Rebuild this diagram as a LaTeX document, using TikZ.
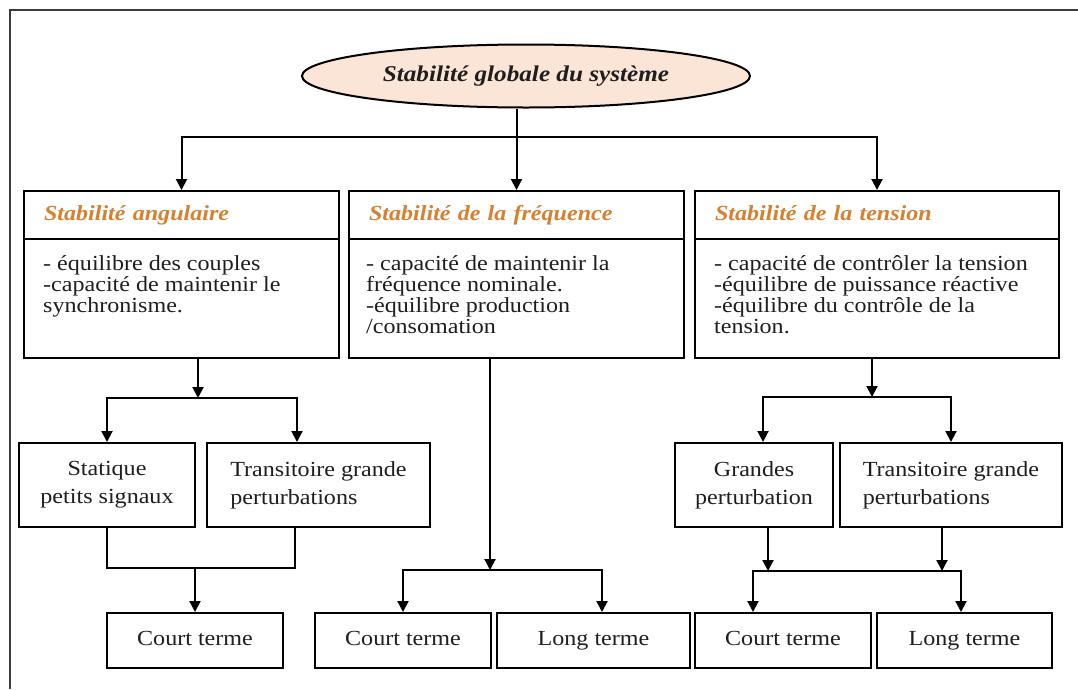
\documentclass[tikz,border=0pt]{standalone}
\usepackage{fontspec}
\setmainfont{Liberation Serif}[FakeStretch=1.12]
\usetikzlibrary{shapes.geometric,arrows.meta,positioning}
\definecolor{peach}{RGB}{251,229,214}
\definecolor{headorange}{RGB}{214,128,48}
\definecolor{framegray}{RGB}{60,60,60}
\definecolor{ink}{RGB}{30,30,30}

\begin{document}
\begin{tikzpicture}[x=1pt,y=-1pt,
  every node/.style={inner sep=0pt,text=ink},
  frame/.style={line width=2.6pt,draw=framegray},
  title/.style={ellipse,draw,line width=2pt,fill=peach,minimum width=448pt,minimum height=63pt,
    font=\fontsize{22.5}{22.5}\selectfont\bfseries\itshape},
  head/.style={draw,line width=2pt,anchor=north west,minimum height=48pt,inner xsep=20pt,
    align=left,text=headorange,text height=15pt,text depth=4pt,
    font=\fontsize{21.5}{21.5}\selectfont\bfseries\itshape},
  body/.style={draw,line width=2pt,anchor=north west,minimum height=119pt},
  bodytext/.style={anchor=north west,align=left,font=\fontsize{21.5}{21}\selectfont},
  sub/.style={draw,line width=2pt,minimum height=84pt,align=center,
    font=\fontsize{21.5}{28}\selectfont},
  term/.style={draw,line width=2pt,minimum height=55pt,text height=15pt,text depth=5pt,
    font=\fontsize{21.5}{21.5}\selectfont},
  arr/.style={line width=2pt,-{Triangle[length=11pt,width=11pt]}},
  both/.style={line width=2pt,{Triangle[length=11pt,width=11pt]}-{Triangle[length=11pt,width=11pt]}},
  link/.style={line width=2pt}
]
\useasboundingbox (0,0) rectangle (1078,689);

% Outer frame (top and left sides only)
\draw[frame] (10,689) -- (10,10) -- (1078,10);

% Title
\node[title] (sys) at (526,76) {Stabilité globale du système};

% Three families: header and body of each box
\node[head,text width=275pt] (angH) at (23,190) {Stabilité angulaire};
\node[body,minimum width=315pt] (angB) at (23,238) {};
\node[head,text width=295pt] (frqH) at (348,190) {Stabilité de la fréquence};
\node[body,minimum width=335pt] (frqB) at (348,238) {};
\node[head,text width=324pt] (tenH) at (694,190) {Stabilité de la tension};
\node[body,minimum width=364pt] (tenB) at (694,238) {};

\node[bodytext] (angT) at ([shift={(20,17)}]angB.north west)
  {- équilibre des couples\\-capacité de maintenir le\\synchronisme.};
\node[bodytext] (frqT) at ([shift={(18,17)}]frqB.north west)
  {- capacité de maintenir la\\fréquence nominale.\\-équilibre production\\/consomation};
\node[bodytext] (tenT) at ([shift={(20,17)}]tenB.north west)
  {- capacité de contrôler la tension\\-équilibre de puissance réactive\\-équilibre du contrôle de la\\tension.};

% Second row
\node[sub,minimum width=176pt] (stat) at (107,485) {Statique\\petits signaux};
\node[sub,minimum width=223pt,align=left] (traA) at (318.5,485) {Transitoire grande\\perturbations};
\node[sub,minimum width=158pt] (grd) at (754,485) {Grandes\\perturbation};
\node[sub,minimum width=222pt,align=left] (traB) at (951,485) {Transitoire grande\\perturbations};

% Bottom row
\node[term,minimum width=176pt] (crtA) at (195,640.5) {Court terme};
\node[term,minimum width=176pt] (crtB) at (403,640.5) {Court terme};
\node[term,minimum width=193pt] (lngB) at (593.5,640.5) {Long terme};
\node[term,minimum width=176pt] (crtC) at (783,640.5) {Court terme};
\node[term,minimum width=175pt] (lngC) at (964.5,640.5) {Long terme};

% Split from the title
\coordinate (t0) at (515,137);
\draw[arr] (sys.south -| frqH.north) -- (frqH.north);
\draw[both] (angH.north) |- (t0) -| (tenH.north);

% Angular branch
\coordinate (a0) at (198,398);
\coordinate (a2) at (297,398);
\draw[arr] (angB.south -| a0) -- (a0);
\draw[both] (stat.north) |- (a0) -| (a2 |- traA.north);
\coordinate (b2) at (295,568);
\draw[link] (stat.south) |- (b2) -- (b2 |- traA.south);
\draw[arr] (crtA.north |- b2) -- (crtA.north);

% Frequency branch
\coordinate (c0) at (490,570);
\coordinate (c2) at (602,570);
\draw[arr] (frqB.south -| c0) -- (c0);
\draw[both] (crtB.north) |- (c0) -| (c2 |- lngB.north);

% Voltage branch
\coordinate (d0) at (872,397);
\coordinate (d1) at (763,397);
\draw[arr] (tenB.south -| d0) -- (d0);
\draw[both] (d1 |- grd.north) |- (d0) -| (traB.north);
\coordinate (e1) at (768,571);
\coordinate (e2) at (942,571);
\coordinate (e3) at (753,571);
\coordinate (e4) at (961,571);
\draw[arr] (grd.south -| e1) -- (e1);
\draw[arr] (traB.south -| e2) -- (e2);
\draw[both] (e3 |- crtC.north) -- (e3) -- (e4) -- (e4 |- lngC.north);
\end{tikzpicture}
\end{document}
